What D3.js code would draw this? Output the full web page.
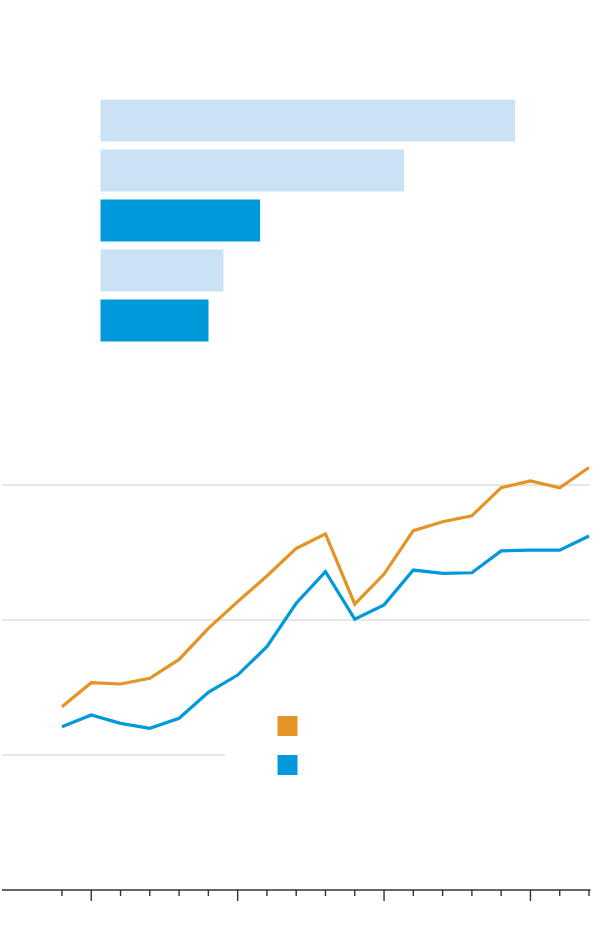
<!DOCTYPE html>
<html>
<head>
<meta charset="utf-8">
<script src="https://cdn.jsdelivr.net/npm/d3@7"></script>
<style>
  html, body { margin: 0; padding: 0; background: #fff; }
  svg { display: block; }
</style>
</head>
<body>
<svg id="chart" width="600" height="940"></svg>
<script>
// ---- Data ----
const barCategories = ["A", "B", "C", "D", "E"];
const barValues = [34.55, 25.3, 13.3, 10.25, 9.0];
const barHighlight = [false, false, true, false, true];

const years = [1989, 1990, 1991, 1992, 1993, 1994, 1995, 1996, 1997, 1998,
               1999, 2000, 2001, 2002, 2003, 2004, 2005, 2006, 2007];
const seriesOrange = [67.9, 76.8, 76.3, 78.4, 85.4, 96.9, 106.8, 116.3, 126.5, 131.9,
                      105.9, 117.0, 133.1, 136.4, 138.6, 149.0, 151.5, 149.0, 156.5];
const seriesBlue = [60.5, 64.8, 61.7, 59.9, 63.6, 73.2, 79.6, 90.1, 106.2, 117.9,
                    100.3, 105.6, 118.5, 117.3, 117.5, 125.6, 125.9, 125.9, 131.1];
const gridValues = [50, 100, 150];
const tickYears = d3.range(1989, 2008);
const majorTickYears = [1990, 1995, 2000, 2005];

const colOrange = "#e39424";
const colBlue = "#0099dc";
const colLight = "#cbe2f5";

const svg = d3.select("#chart");

// ---- Bar chart ----
const xBar = d3.scaleLinear().domain([0, 40]).range([100.5, 580.5]);
const yBar = d3.scaleBand().domain(barCategories).range([99.5, 341.5]).paddingInner(0.16).paddingOuter(0);

svg.append("g").selectAll("rect")
  .data(barCategories)
  .join("rect")
  .attr("x", xBar(0))
  .attr("y", d => yBar(d))
  .attr("width", (d, i) => xBar(barValues[i]) - xBar(0))
  .attr("height", yBar.bandwidth())
  .attr("fill", (d, i) => barHighlight[i] ? colBlue : colLight);

// ---- Line chart ----
const x = d3.scaleLinear().domain([1987, 2007]).range([3.4, 589]);
const y = d3.scaleLinear().domain([0, 150]).range([890, 485]);

// grid lines
const grid = svg.append("g");
gridValues.forEach(v => {
  grid.append("line")
    .attr("x1", 2).attr("x2", v === 50 ? 225 : 590)
    .attr("y1", y(v)).attr("y2", y(v))
    .attr("stroke", "#dedede").attr("stroke-width", 1.6);
});

const line = d3.line().x((d, i) => x(years[i])).y(d => y(d));

svg.append("path").datum(seriesOrange)
  .attr("d", line).attr("fill", "none")
  .attr("stroke", colOrange).attr("stroke-width", 3.2).attr("stroke-linejoin", "miter");
svg.append("path").datum(seriesBlue)
  .attr("d", line).attr("fill", "none")
  .attr("stroke", colBlue).attr("stroke-width", 3.2).attr("stroke-linejoin", "miter");

// x axis
const axisG = svg.append("g");
axisG.append("line")
  .attr("x1", 2).attr("x2", 590.5)
  .attr("y1", y(0)).attr("y2", y(0))
  .attr("stroke", "#333").attr("stroke-width", 1.6);
axisG.selectAll("line.tick")
  .data(tickYears)
  .join("line")
  .attr("class", "tick")
  .attr("x1", d => x(d)).attr("x2", d => x(d))
  .attr("y1", y(0)).attr("y2", d => y(0) + (majorTickYears.includes(d) ? 11 : 6))
  .attr("stroke", "#333").attr("stroke-width", 1.4);

// legend
const legend = svg.append("g").attr("transform", "translate(277.5,716)");
legend.append("rect").attr("x", 0).attr("y", 0).attr("width", 20).attr("height", 20).attr("fill", colOrange);
legend.append("rect").attr("x", 0).attr("y", 39).attr("width", 20).attr("height", 20).attr("fill", colBlue);
</script>
</body>
</html>
